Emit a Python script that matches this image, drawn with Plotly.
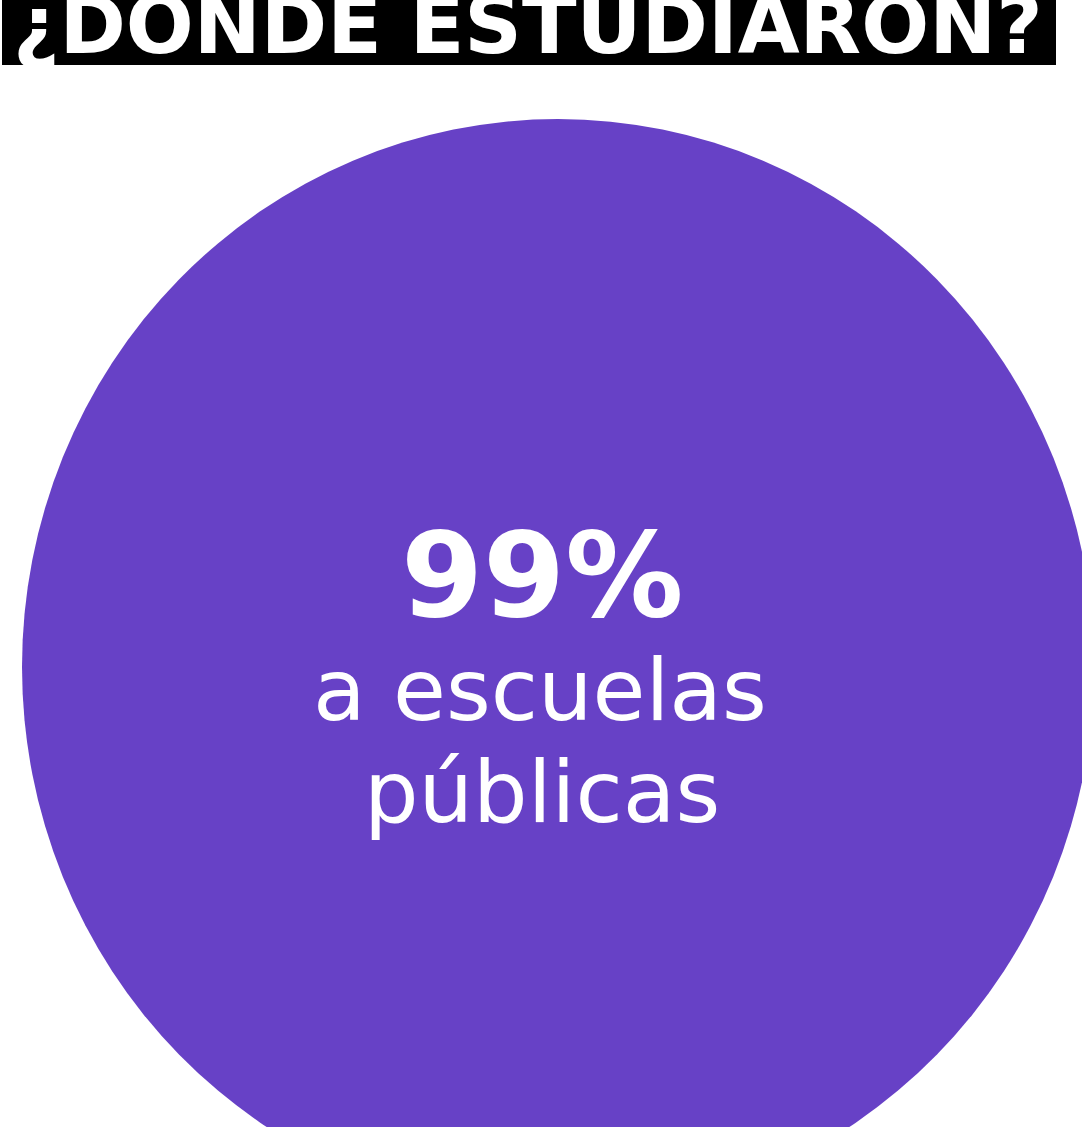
import plotly.graph_objects as go

# Data
title_text = "¿DONDE ESTUDIARON?"
percent_values = [99]
percent_labels = ["a escuelas", "públicas"]

W, H = 1082, 1127
PURPLE = "#6741c6"

fig = go.Figure()

# invisible trace to establish axes
fig.add_trace(go.Scatter(x=[0, W], y=[0, H], mode="markers",
                         marker=dict(opacity=0), hoverinfo="skip", showlegend=False))

# big circle
fig.add_shape(type="circle", xref="x", yref="y",
              x0=22, x1=1094, y0=119, y1=1215,
              fillcolor=PURPLE, line=dict(width=0), layer="below")

# title bar
fig.add_shape(type="rect", xref="x", yref="y",
              x0=2, x1=1056, y0=0, y1=65,
              fillcolor="black", line=dict(width=0))

fig.add_annotation(x=528, y=25, xref="x", yref="y", text=f"<b>{title_text}</b>",
                   showarrow=False, xanchor="center", yanchor="middle",
                   font=dict(family="DejaVu Sans", size=80, color="white"))

fig.add_annotation(x=542, y=575, xref="x", yref="y", text=f"<b>{percent_values[0]}%</b>",
                   showarrow=False, xanchor="center", yanchor="middle",
                   font=dict(family="DejaVu Sans", size=118, color="white"))

fig.add_annotation(x=540, y=690, xref="x", yref="y", text=percent_labels[0],
                   showarrow=False, xanchor="center", yanchor="middle",
                   font=dict(family="DejaVu Sans", size=86, color="white"))

fig.add_annotation(x=542, y=792, xref="x", yref="y", text=percent_labels[1],
                   showarrow=False, xanchor="center", yanchor="middle",
                   font=dict(family="DejaVu Sans", size=86, color="white"))

fig.update_xaxes(range=[0, W], visible=False, fixedrange=True)
fig.update_yaxes(range=[H, 0], visible=False, fixedrange=True)
fig.update_layout(width=W, height=H, margin=dict(l=0, r=0, t=0, b=0),
                  paper_bgcolor="white", plot_bgcolor="white", showlegend=False)

fig.write_html("out.html", config={"displayModeBar": False},
               post_script="document.body.style.margin='0';document.body.style.overflow='hidden';")
